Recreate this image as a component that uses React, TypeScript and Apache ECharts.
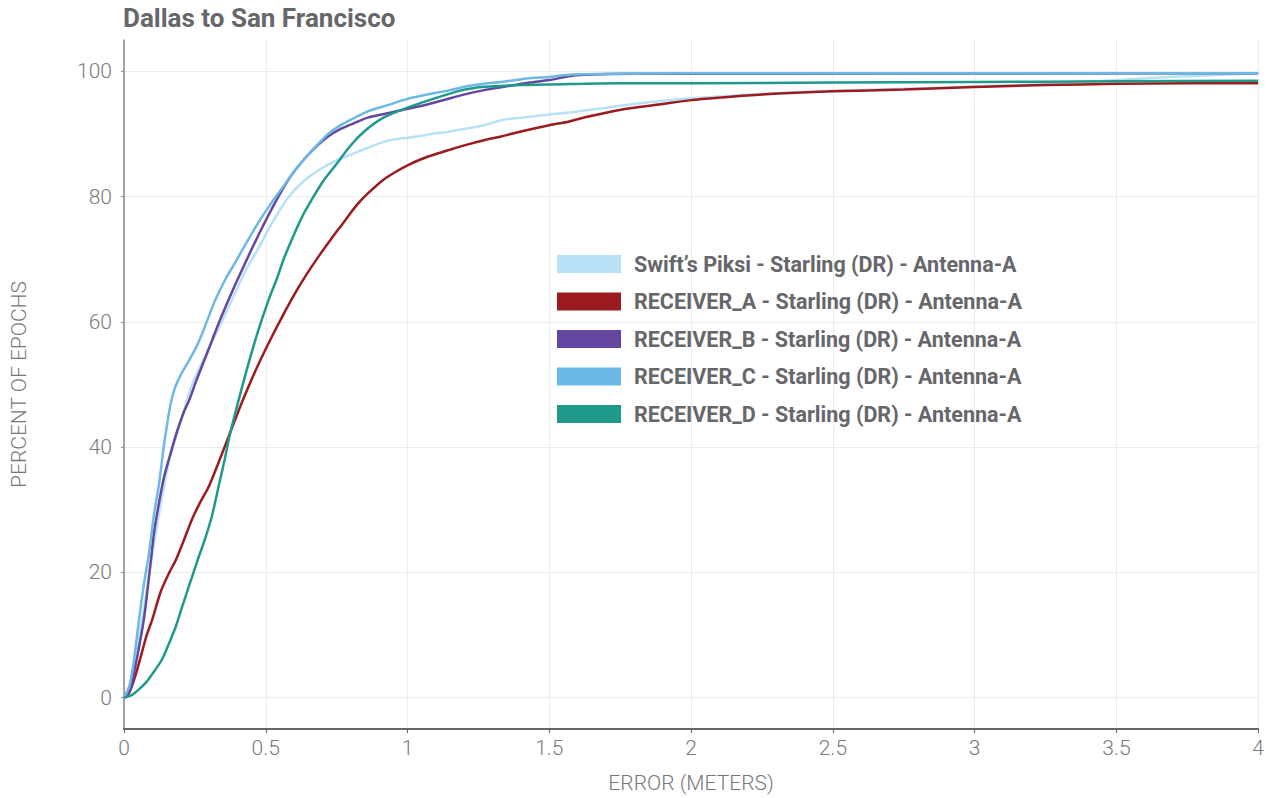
import React, { useEffect, useRef } from "react";
import * as echarts from "echarts";

const titleText = "Dallas to San Francisco";
const xAxisName = "ERROR (METERS)";
const yAxisName = "PERCENT OF EPOCHS";
const yTickValues = [0, 20, 40, 60, 80, 100];

const seriesNames = [
  "Swift\u2019s Piksi - Starling (DR) - Antenna-A",
  "RECEIVER_A - Starling (DR) - Antenna-A",
  "RECEIVER_B - Starling (DR) - Antenna-A",
  "RECEIVER_C - Starling (DR) - Antenna-A",
  "RECEIVER_D - Starling (DR) - Antenna-A",
];
const seriesColors = ["#b9e1f6", "#9b1b1f", "#6347a0", "#6cb9e6", "#1f9a8a"];

const piksi = [
  [0, 0], [0.02, 2], [0.05, 9], [0.08, 17], [0.1, 23], [0.13, 31], [0.16, 38], [0.2, 44],
  [0.236, 49.5], [0.27, 53], [0.31, 56.8], [0.35, 60.5], [0.394, 64.8], [0.43, 68.3], [0.475, 71.8],
  [0.51, 74.8], [0.546, 77.6], [0.58, 79.9], [0.62, 81.9], [0.66, 83.4], [0.7, 84.6], [0.74, 85.6],
  [0.8, 86.7], [0.86, 87.8], [0.9, 88.5], [0.95, 89.1], [1.0, 89.4], [1.05, 89.7], [1.1, 90.1],
  [1.15, 90.4], [1.2, 90.8], [1.27, 91.4], [1.33, 92.2], [1.4, 92.6], [1.5, 93.1], [1.6, 93.6],
  [1.7, 94.2], [1.785, 94.7], [1.9, 95.3], [2.0, 95.7], [2.14, 96.1], [2.25, 96.4], [2.5, 96.9],
  [2.75, 97.2], [3.0, 97.6], [3.25, 98.0], [3.5, 98.6], [3.65, 99.0], [3.8, 99.3], [4.0, 99.7],
];

const receiverA = [
  [0, 0], [0.018, 0.8], [0.04, 3.5], [0.063, 7.2], [0.08, 10], [0.1, 12.5], [0.13, 17], [0.16, 20],
  [0.183, 22], [0.21, 25], [0.24, 28.5], [0.27, 31.3], [0.3, 33.8], [0.334, 37.6], [0.37, 41.8],
  [0.41, 46.5], [0.45, 50.8], [0.48, 53.8], [0.52, 57.5], [0.56, 61], [0.6, 64.3], [0.64, 67.3],
  [0.687, 70.5], [0.73, 73.2], [0.77, 75.6], [0.82, 78.6], [0.86, 80.5], [0.915, 82.7], [0.96, 84],
  [1.0, 85], [1.05, 86], [1.1, 86.8], [1.15, 87.5], [1.21, 88.3], [1.27, 89], [1.33, 89.6],
  [1.4, 90.4], [1.5, 91.4], [1.57, 92.0], [1.63, 92.7], [1.7, 93.4], [1.785, 94.1], [1.9, 94.8],
  [2.0, 95.4], [2.1, 95.8], [2.25, 96.3], [2.5, 96.8], [2.75, 97.1], [3.0, 97.5], [3.25, 97.8],
  [3.5, 98.0], [3.75, 98.1], [4.0, 98.1],
];

const receiverB = [
  [0, 0], [0.02, 1], [0.04, 5], [0.07, 12.5], [0.095, 22], [0.106, 26.4], [0.123, 31], [0.14, 35],
  [0.158, 38], [0.187, 42.5], [0.21, 45.5], [0.23, 47.5], [0.254, 50.5], [0.28, 53.5], [0.306, 56.5],
  [0.334, 59.8], [0.36, 62.6], [0.38, 64.7], [0.405, 67.2], [0.447, 71.3], [0.49, 75.3], [0.53, 78.8],
  [0.57, 82], [0.6, 84], [0.64, 86.2], [0.683, 88.2], [0.72, 89.6], [0.764, 90.8],
  [0.81, 91.7], [0.86, 92.6], [0.93, 93.3], [1.0, 94.0], [1.07, 94.7], [1.15, 95.7], [1.21, 96.4],
  [1.27, 97.0], [1.35, 97.6], [1.43, 98.2], [1.5, 98.6], [1.58, 99.3], [1.65, 99.5], [1.8, 99.6],
  [4.0, 99.7],
];

const receiverC = [
  [0, 0], [0.02, 2], [0.035, 6], [0.053, 12.5], [0.07, 18], [0.088, 23], [0.105, 29], [0.123, 34],
  [0.14, 40], [0.155, 44.5], [0.165, 47], [0.18, 49.5], [0.2, 51.5], [0.225, 53.5], [0.246, 55.2],
  [0.265, 57], [0.28, 58.6], [0.3, 61], [0.324, 63.7], [0.36, 67], [0.39, 69.3], [0.415, 71.3],
  [0.447, 73.8], [0.48, 76.3], [0.52, 79], [0.56, 81.5], [0.6, 84], [0.64, 86.2],
  [0.683, 88.3], [0.72, 90], [0.764, 91.4], [0.81, 92.5], [0.86, 93.6], [0.93, 94.6], [1.0, 95.6],
  [1.07, 96.3], [1.15, 97], [1.21, 97.6], [1.27, 98], [1.33, 98.3], [1.43, 98.9], [1.5, 99.1],
  [1.58, 99.5], [1.7, 99.6], [2.0, 99.7], [4.0, 99.7],
];

const receiverD = [
  [0, 0], [0.03, 0.5], [0.05, 1.2], [0.077, 2.4], [0.1, 3.8], [0.134, 6.1], [0.16, 8.8], [0.183, 11.4],
  [0.205, 14.5], [0.229, 17.8], [0.26, 22], [0.289, 25.8], [0.31, 29], [0.334, 33.8], [0.355, 38],
  [0.37, 41.3], [0.387, 44.5], [0.41, 48.5], [0.437, 53], [0.472, 58.4], [0.51, 63.5], [0.54, 67],
  [0.563, 70], [0.6, 74], [0.634, 77.3], [0.662, 79.5], [0.7, 82.3], [0.746, 85], [0.8, 88.2],
  [0.85, 90.5], [0.915, 92.6], [1.0, 94.2], [1.09, 95.6], [1.176, 96.8], [1.23, 97.3], [1.3, 97.6],
  [1.4, 97.8], [1.5, 97.9], [1.75, 98.1], [2.0, 98.1], [2.5, 98.2], [3.0, 98.3], [3.5, 98.4],
  [4.0, 98.5],
];

const seriesData = [piksi, receiverA, receiverB, receiverC, receiverD];

const FONT = "Roboto, 'Noto Sans', sans-serif";

export default function App() {
  const ref = useRef<HTMLDivElement>(null);
  useEffect(() => {
    if (!ref.current) return;
    const chart = echarts.init(ref.current, null, { renderer: "svg" });
    chart.setOption({
      animation: false,
      backgroundColor: "#ffffff",
      title: {
        text: titleText,
        left: 118,
        top: 0,
        textStyle: { fontFamily: FONT, fontWeight: "bold", fontSize: 26, color: "#66666b" },
      },
      legend: {
        orient: "vertical",
        left: 557,
        top: 253,
        padding: 0,
        icon: "rect",
        itemWidth: 64,
        itemHeight: 18,
        itemGap: 15.5,
        data: seriesNames,
        textStyle: {
          fontFamily: FONT,
          fontWeight: "bold",
          fontSize: 21.5,
          lineHeight: 18,
          color: "#66666b",
          padding: [0, 0, 0, 8],
        },
      },
      grid: { left: 123, right: 8, top: 40, bottom: 68, containLabel: false },
      xAxis: {
        type: "value",
        min: 0,
        max: 4,
        interval: 0.5,
        name: xAxisName,
        nameLocation: "middle",
        nameGap: 43,
        nameTextStyle: { fontFamily: FONT, fontSize: 21, color: "#77777b", fontWeight: 300 },
        axisLine: { show: true, onZero: false, lineStyle: { color: "#66666a", width: 2 } },
        axisTick: { show: true, length: 4, lineStyle: { color: "#66666a" } },
        axisLabel: { fontFamily: FONT, fontSize: 21, color: "#7a7a7e", margin: 8, fontWeight: 300 },
        splitLine: { show: true, lineStyle: { color: "#ececec", width: 1 } },
      },
      yAxis: {
        type: "value",
        min: -5,
        max: 105,
        name: yAxisName,
        nameLocation: "middle",
        nameGap: 95,
        nameTextStyle: { fontFamily: FONT, fontSize: 21, color: "#77777b", fontWeight: 300 },
        axisLine: { show: true, lineStyle: { color: "#88888c", width: 1.5 } },
        axisTick: { show: true, length: 3, customValues: yTickValues, lineStyle: { color: "#88888c" } },
        axisLabel: {
          fontFamily: FONT,
          fontSize: 21,
          color: "#7a7a7e",
          margin: 12,
          fontWeight: 300,
          customValues: yTickValues,
        },
        splitLine: { show: true, lineStyle: { color: "#ececec", width: 1 } },
      },
      series: seriesNames.map((name, i) => ({
        name,
        type: "line",
        data: seriesData[i],
        showSymbol: false,
        smooth: 0.3,
        lineStyle: { width: 2.5, color: seriesColors[i] },
        itemStyle: { color: seriesColors[i] },
        z: 2 + i,
      })),
    });
    return () => chart.dispose();
  }, []);
  return (
    <div
      ref={ref}
      style={{ position: "absolute", left: 0, top: 0, width: 1267, height: 798 }}
    />
  );
}
